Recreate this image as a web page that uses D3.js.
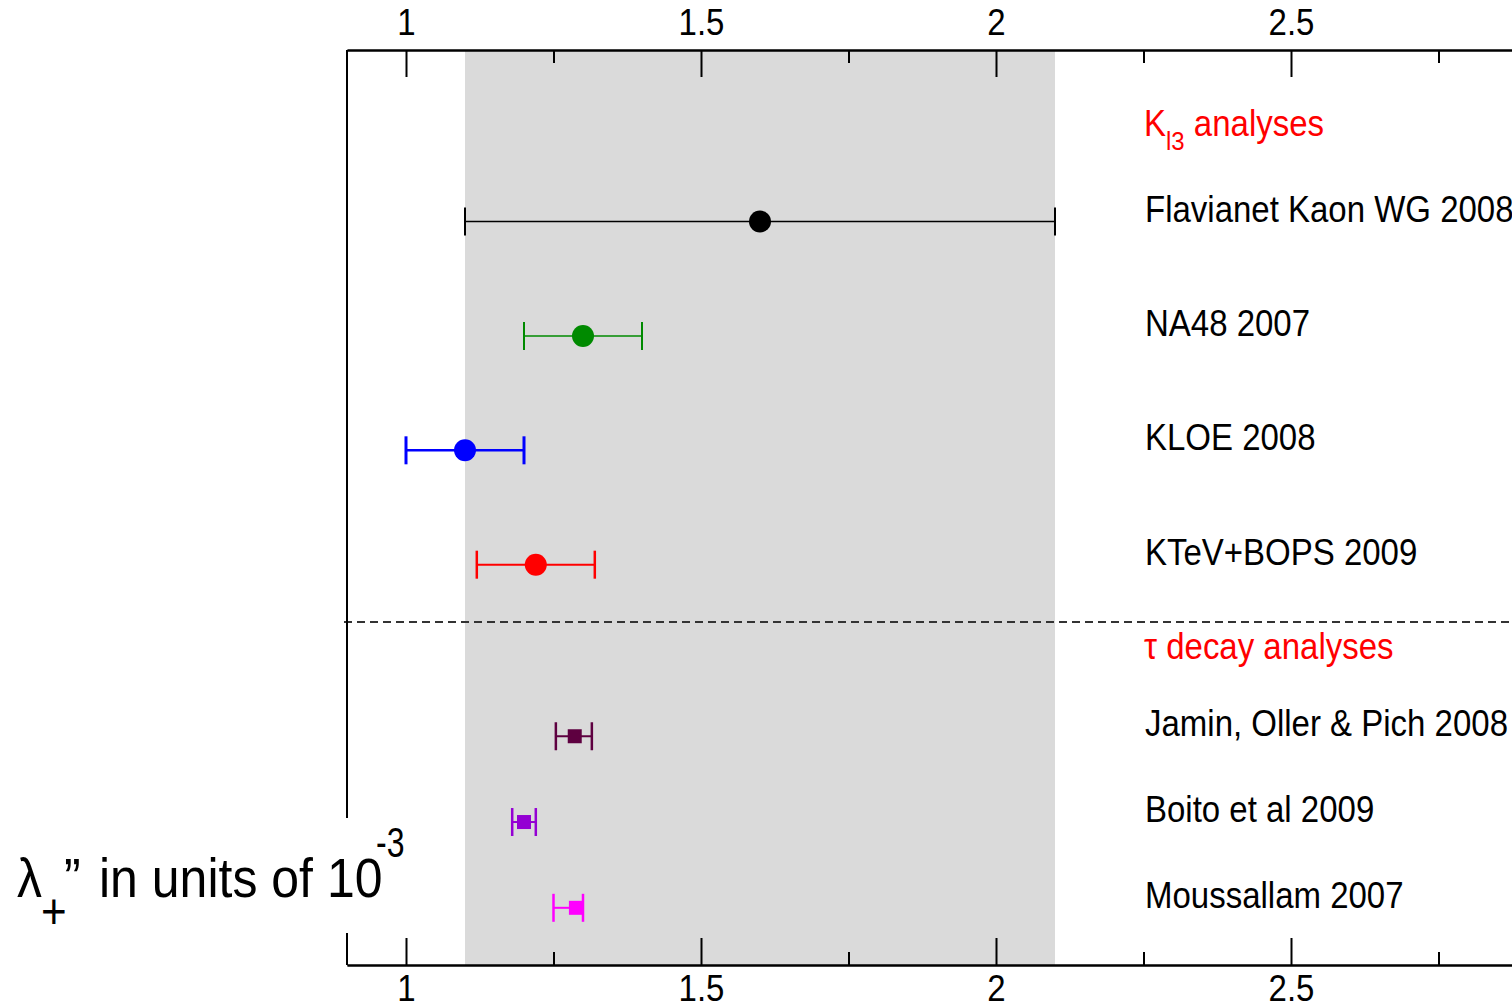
<!DOCTYPE html>
<html>
<head>
<meta charset="utf-8">
<script src="https://cdn.jsdelivr.net/npm/d3@7"></script>
<style>
  body { margin: 0; background: #fff; }
  text { font-family: "Liberation Sans", Arial, sans-serif; }
</style>
</head>
<body>
<script>
// measurements of lambda_+'' (units of 1e-3)
const names = ["Flavianet Kaon WG 2008", "NA48 2007", "KLOE 2008", "KTeV+BOPS 2009",
               "Jamin, Oller & Pich 2008", "Boito et al 2009", "Moussallam 2007"];
const values = [1.6, 1.3, 1.1, 1.22, 1.286, 1.2, 1.288];
const lows   = [1.1, 1.2, 1.0, 1.12, 1.254, 1.18, 1.25];
const highs  = [2.1, 1.4, 1.2, 1.32, 1.315, 1.22, 1.30];
const rows   = [13, 11, 9, 7, 4, 2.5, 1];   // row position in plot units
const kinds  = ["circle", "circle", "circle", "circle", "square", "square", "square"];

const band = [1.1, 2.1];
const majorTicks = [1, 1.5, 2, 2.5];
const minorTicks = [1.25, 1.75, 2.25, 2.75];
const headers = [{text: "K", sub: "l3", rest: " analyses", row: 14.5},
                 {text: "\u03C4 decay analyses", sub: "", rest: "", row: 5.35}];
const separatorRow = 6;

const colors = ["#000000", "#008a00", "#0000ff", "#ff0000", "#5e0040", "#9400d3", "#ff00ff"];
const barWidths = [1.5, 1.5, 2.5, 2, 2, 2, 2];

const W = 1512, H = 1007;
const plotLeft = 347, plotTop = 50, plotBottom = 965;

const svg = d3.select("body").append("svg")
    .attr("width", W)
    .attr("height", H);

const x = d3.scaleLinear().domain([0.9, 3.0]).range([plotLeft, plotLeft + 2.1 * 590]);
const y = d3.scaleLinear().domain([0, 16]).range([plotBottom, plotTop]);

// shaded band
svg.append("rect")
    .attr("x", x(band[0]))
    .attr("y", plotTop)
    .attr("width", x(band[1]) - x(band[0]))
    .attr("height", plotBottom - plotTop)
    .attr("fill", "#dadada");

// dashed separator
svg.append("line")
    .attr("x1", x(0.9) - 3).attr("x2", W)
    .attr("y1", y(separatorRow)).attr("y2", y(separatorRow))
    .attr("stroke", "#333").attr("stroke-width", 2)
    .attr("stroke-dasharray", "8,5");

// axes
function styleAxis(g) {
  g.attr("font-size", 33).attr("font-family", null);
  g.select(".domain").attr("stroke", "#000").attr("stroke-width", 2);
  g.selectAll(".tick line").attr("stroke", "#000").attr("stroke-width", 2);
  g.selectAll(".tick text").attr("fill", "#000").attr("transform", "scale(1,1.1)");
}

svg.append("g")
    .attr("transform", `translate(0,${plotTop})`)
    .call(d3.axisTop(x).tickValues(majorTicks).tickSize(-27).tickSizeOuter(0)
          .tickPadding(14).tickFormat(d => String(d)))
    .call(styleAxis);
svg.append("g")
    .attr("transform", `translate(0,${plotTop})`)
    .call(d3.axisTop(x).tickValues(minorTicks).tickSize(-13).tickSizeOuter(0).tickFormat(""))
    .call(styleAxis);

svg.append("g")
    .attr("transform", `translate(0,${plotBottom})`)
    .call(d3.axisBottom(x).tickValues(majorTicks).tickSize(-27).tickSizeOuter(0)
          .tickPadding(9).tickFormat(d => String(d)))
    .call(styleAxis);
svg.append("g")
    .attr("transform", `translate(0,${plotBottom})`)
    .call(d3.axisBottom(x).tickValues(minorTicks).tickSize(-13).tickSizeOuter(0).tickFormat(""))
    .call(styleAxis);

// left frame
svg.append("line")
    .attr("x1", plotLeft).attr("x2", plotLeft)
    .attr("y1", plotTop).attr("y2", plotBottom)
    .attr("stroke", "#000").attr("stroke-width", 2);

// error bars and markers
const idx = d3.range(names.length);
const pts = svg.append("g").selectAll("g")
    .data(idx)
    .join("g");

pts.append("line")
    .attr("x1", i => x(lows[i])).attr("x2", i => x(highs[i]))
    .attr("y1", i => y(rows[i])).attr("y2", i => y(rows[i]))
    .attr("stroke", i => colors[i]).attr("stroke-width", i => barWidths[i]);

pts.selectAll(".cap")
    .data(i => [[i, lows[i]], [i, highs[i]]])
    .join("line")
    .attr("class", "cap")
    .attr("x1", d => x(d[1])).attr("x2", d => x(d[1]))
    .attr("y1", d => y(rows[d[0]]) - 14).attr("y2", d => y(rows[d[0]]) + 14)
    .attr("stroke", d => colors[d[0]]).attr("stroke-width", d => barWidths[d[0]] + 0.5);

pts.filter(i => kinds[i] === "circle")
    .append("circle")
    .attr("cx", i => x(values[i]))
    .attr("cy", i => y(rows[i]))
    .attr("r", 11)
    .attr("fill", i => colors[i]);

pts.filter(i => kinds[i] === "square")
    .append("rect")
    .attr("x", i => x(values[i]) - 7)
    .attr("y", i => y(rows[i]) - 7)
    .attr("width", 14).attr("height", 14)
    .attr("fill", i => colors[i]);

// row labels
svg.append("g").selectAll("text")
    .data(idx)
    .join("text")
    .attr("transform", i => `translate(1145,${y(rows[i])}) scale(1,1.1)`)
    .attr("font-size", 33)
    .attr("fill", "#000")
    .text(i => names[i]);

// section headers
headers.forEach(h => {
  const t = svg.append("text")
      .attr("transform", `translate(1144,${y(h.row)}) scale(1,1.1)`)
      .attr("font-size", 33)
      .attr("fill", "#ff0000");
  t.append("tspan").text(h.text);
  if (h.sub) {
    t.append("tspan").attr("font-size", 24).attr("dy", 13).text(h.sub);
    t.append("tspan").attr("dy", -13).text(h.rest);
  }
});

// axis title with white backing
svg.append("rect")
    .attr("x", 0).attr("y", 818)
    .attr("width", 405).attr("height", 115)
    .attr("fill", "#fff");

const title = svg.append("g").attr("fill", "#000");
title.append("text")
    .attr("transform", "translate(17,897) scale(1,1.12)")
    .attr("font-size", 50)
    .text("\u03BB");
title.append("text")
    .attr("transform", "translate(41,928) scale(1,1.15)")
    .attr("font-size", 44)
    .text("+");
title.append("text")
    .attr("transform", "translate(64,897) scale(1,1.12)")
    .attr("font-size", 50)
    .text("\u201D");
title.append("text")
    .attr("transform", "translate(99,897) scale(1,1.12)")
    .attr("font-size", 50)
    .text("in units of 10");
title.append("text")
    .attr("transform", "translate(376,857) scale(1,1.3)")
    .attr("font-size", 32)
    .text("-3");
</script>
</body>
</html>
